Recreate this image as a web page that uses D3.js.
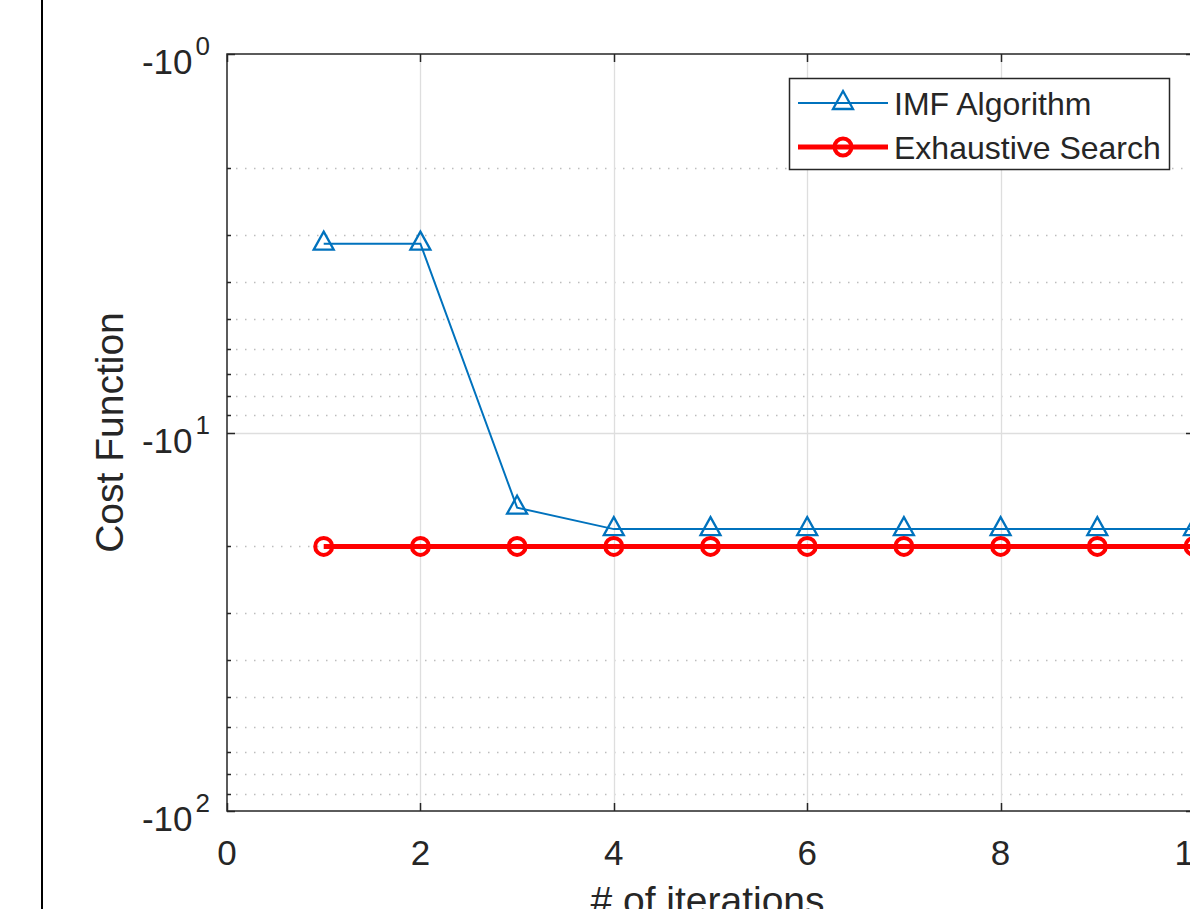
<!DOCTYPE html>
<html>
<head>
<meta charset="utf-8">
<script src="https://cdn.jsdelivr.net/npm/d3@7"></script>
<style>
  html, body { margin: 0; padding: 0; background: #fff; overflow: hidden; }
  svg { display: block; }
  text { font-family: "Liberation Sans", Arial, Helvetica, sans-serif; fill: #262626; }
</style>
</head>
<body>
<script>
// ---- data ----
const iterations = [1, 2, 3, 4, 5, 6, 7, 8, 9, 10];
const imfValues = [-3.17, -3.17, -15.8, -18.0, -18.0, -18.0, -18.0, -18.0, -18.0, -18.0];
const exhaustiveValues = [-20, -20, -20, -20, -20, -20, -20, -20, -20, -20];
const seriesNames = ["IMF Algorithm", "Exhaustive Search"];
const xTickValues = [0, 2, 4, 6, 8, 10];
const yMajorTicks = [-1, -10, -100];
const yTickExponents = ["0", "1", "2"];
const xLabel = "# of iterations";
const yLabel = "Cost Function";

// ---- layout ----
const W = 1190, H = 909;
const pLeft = 227, pRight = 1194, pTop = 54, pBottom = 811;
const blue = "#0072BD", red = "#FF0000", axisColor = "#262626";

const svg = d3.select("body").append("svg").attr("width", W).attr("height", H);

const x = d3.scaleLinear().domain([0, 10]).range([pLeft, pRight]);
const y = d3.scaleLog().domain([-1, -100]).range([pTop, pBottom]);

// figure border line on the left
svg.append("line").attr("x1", 42).attr("x2", 42).attr("y1", 0).attr("y2", H)
  .attr("stroke", "#000").attr("stroke-width", 2);

// ---- grid ----
const allY = y.ticks();
const minorY = allY.filter(v => !yMajorTicks.includes(v));
const grid = svg.append("g");
grid.selectAll("line.minor").data(minorY).join("line")
  .attr("x1", pLeft).attr("x2", pRight)
  .attr("y1", d => Math.round(y(d)) + 0.5).attr("y2", d => Math.round(y(d)) + 0.5)
  .attr("stroke", "#bdbdbd").attr("stroke-width", 1.3).attr("stroke-dasharray", "1.5,7.5");
grid.selectAll("line.majy").data(yMajorTicks.slice(1, 2)).join("line")
  .attr("x1", pLeft).attr("x2", pRight)
  .attr("y1", d => Math.round(y(d)) + 0.5).attr("y2", d => Math.round(y(d)) + 0.5)
  .attr("stroke", "#dedede").attr("stroke-width", 1.3);
grid.selectAll("line.majx").data(xTickValues.slice(1)).join("line")
  .attr("y1", pTop).attr("y2", pBottom)
  .attr("x1", d => Math.round(x(d)) + 0.5).attr("x2", d => Math.round(x(d)) + 0.5)
  .attr("stroke", "#dedede").attr("stroke-width", 1.3);

// ---- axes (box with ticks on all sides) ----
const ax = svg.append("g").attr("stroke", axisColor);
xTickValues.forEach(v => {
  const px = Math.round(x(v)) + 0.5;
  ax.append("line").attr("x1", px).attr("x2", px).attr("y1", pBottom).attr("y2", pBottom - 8).attr("stroke-width", 1.5);
  ax.append("line").attr("x1", px).attr("x2", px).attr("y1", pTop).attr("y2", pTop + 8).attr("stroke-width", 1.5);
});
allY.forEach(v => {
  const py = Math.round(y(v)) + 0.5;
  const len = yMajorTicks.includes(v) ? 8 : 4;
  ax.append("line").attr("x1", pLeft).attr("x2", pLeft + len).attr("y1", py).attr("y2", py).attr("stroke-width", 1.5);
  ax.append("line").attr("x1", pRight).attr("x2", pRight - len).attr("y1", py).attr("y2", py).attr("stroke-width", 1.5);
});
ax.append("rect").attr("x", pLeft).attr("y", pTop).attr("width", pRight - pLeft).attr("height", pBottom - pTop)
  .attr("fill", "none").attr("stroke-width", 1.5);

// tick labels
svg.append("g").selectAll("text").data(xTickValues).join("text")
  .attr("x", d => x(d)).attr("y", pBottom + 54)
  .attr("text-anchor", "middle").attr("font-size", 35)
  .text(d => d);

const yl = svg.append("g").selectAll("text").data(yMajorTicks).join("text")
  .attr("x", pLeft - 17).attr("y", d => y(d) + 20)
  .attr("text-anchor", "end").attr("font-size", 35);
yl.append("tspan").text("-10");
yl.append("tspan").attr("font-size", 26).attr("dy", -19).attr("dx", 3).text((d, i) => yTickExponents[i]);

// axis labels
svg.append("text").attr("x", (pLeft + pRight) / 2 - 3).attr("y", 914)
  .attr("text-anchor", "middle").attr("font-size", 39).text(xLabel);
svg.append("text").attr("transform", `translate(123,${(pTop + pBottom) / 2}) rotate(-90)`)
  .attr("text-anchor", "middle").attr("font-size", 39).text(yLabel);

// ---- series ----
const triPath = (w, h) => `M0,${-2 * h / 3}L${w / 2},${h / 3}L${-w / 2},${h / 3}Z`;
const line = d3.line().x((d, i) => x(iterations[i])).y(d => y(d));

const plot = svg.append("g");
plot.append("path").datum(imfValues).attr("d", line)
  .attr("fill", "none").attr("stroke", blue).attr("stroke-width", 2);
plot.selectAll("path.tri").data(imfValues).join("path")
  .attr("d", triPath(20, 18))
  .attr("transform", (d, i) => `translate(${x(iterations[i])},${y(d)})`)
  .attr("fill", "none").attr("stroke", blue).attr("stroke-width", 2.3).attr("stroke-linejoin", "miter");

plot.append("path").datum(exhaustiveValues).attr("d", line)
  .attr("fill", "none").attr("stroke", red).attr("stroke-width", 5);
plot.selectAll("circle.c").data(exhaustiveValues).join("circle")
  .attr("cx", (d, i) => x(iterations[i])).attr("cy", d => y(d)).attr("r", 8.5)
  .attr("fill", "none").attr("stroke", red).attr("stroke-width", 4);

// ---- legend ----
const lg = svg.append("g");
lg.append("rect").attr("x", 789.5).attr("y", 78.5).attr("width", 380).attr("height", 91)
  .attr("fill", "#fff").attr("stroke", axisColor).attr("stroke-width", 1.5);
const legendRows = [
  { name: seriesNames[0], color: blue, width: 2, y: 103, marker: "tri" },
  { name: seriesNames[1], color: red, width: 5, y: 147, marker: "circle" }
];
legendRows.forEach(r => {
  lg.append("line").attr("x1", 798).attr("x2", 888).attr("y1", r.y).attr("y2", r.y)
    .attr("stroke", r.color).attr("stroke-width", r.width);
  if (r.marker === "tri") {
    lg.append("path").attr("d", triPath(20, 18)).attr("transform", `translate(843,${r.y})`)
      .attr("fill", "none").attr("stroke", r.color).attr("stroke-width", 2.3);
  } else {
    lg.append("circle").attr("cx", 843).attr("cy", r.y).attr("r", 8.5)
      .attr("fill", "none").attr("stroke", r.color).attr("stroke-width", 4);
  }
  lg.append("text").attr("x", 894).attr("y", r.y + 12).attr("font-size", 32).text(r.name);
});
</script>
</body>
</html>
